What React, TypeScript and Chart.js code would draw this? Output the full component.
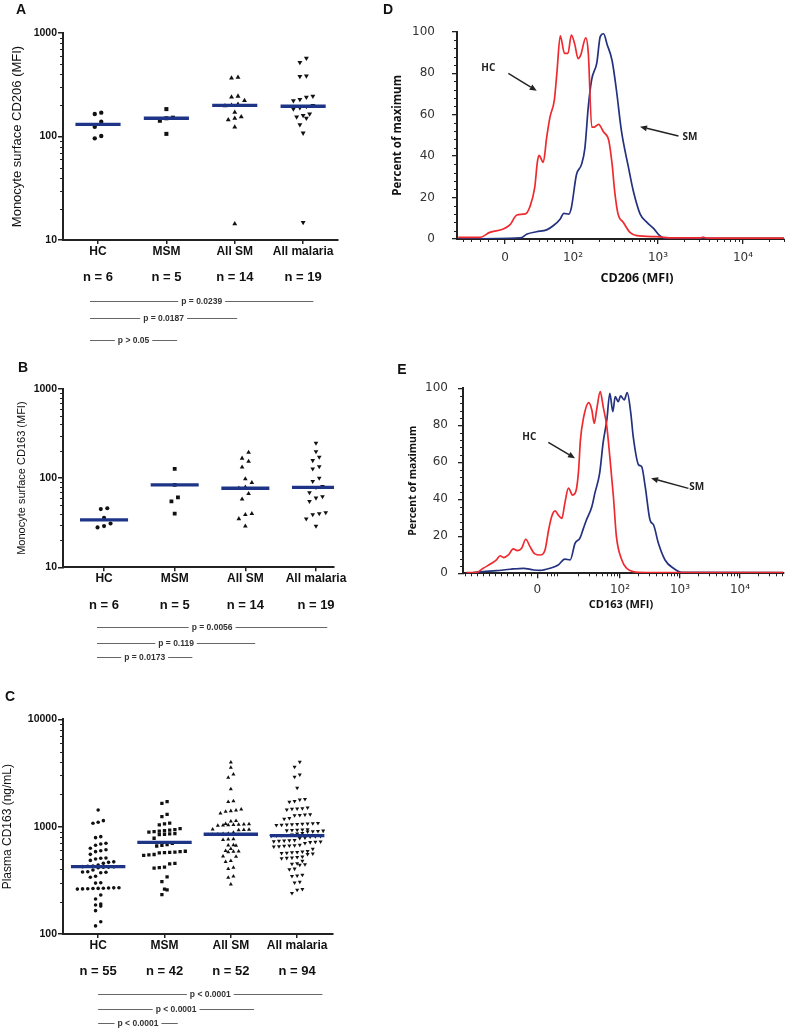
import React, { useEffect, useRef } from 'react';
import { Chart, registerables } from 'chart.js';
Chart.register(...registerables);

// ---------------- Data ----------------
const groups = ['HC', 'MSM', 'All SM', 'All malaria'];

// Panel A: monocyte surface CD206 (MFI)
const aCounts = ['n = 6', 'n = 5', 'n = 14', 'n = 19'];
const aHC = [170, 165, 139, 124, 101, 96];
const aMSM = [184, 152, 150, 142, 106];
const aAllSM = [372, 367, 245, 240, 222, 205, 200, 198, 171, 155, 150, 145, 123, 14.3];
const aAllMal = [570, 520, 385, 380, 245, 240, 228, 222, 200, 195, 190, 185, 165, 160, 155, 150, 130, 108, 14.8];
const aMedians = [131, 150, 200, 196];
const aPValues = ['p = 0.0239', 'p = 0.0187', 'p > 0.05'];

// Panel B: monocyte surface CD163 (MFI)
const bCounts = ['n = 6', 'n = 5', 'n = 14', 'n = 19'];
const bHC = [46, 45, 36, 31, 29, 28];
const bMSM = [127, 84, 61, 55, 40];
const bAllSM = [194, 167, 154, 133, 98, 89, 79, 77, 67, 58, 40, 39, 35, 29];
const bAllMal = [247, 199, 172, 158, 135, 127, 100, 92, 81, 79, 69, 62, 60, 55, 41, 40, 39, 35, 29];
const bMedians = [34, 84, 77, 79];
const bPValues = ['p = 0.0056', 'p = 0.119', 'p = 0.0173'];

// Panel C: plasma CD163 (ng/mL)
const cCounts = ['n = 55', 'n = 42', 'n = 52', 'n = 94'];
const cHC = [1429, 1137, 1100, 1074, 807, 790, 700, 690, 670, 630, 610, 597, 585, 552, 510, 507, 500, 485, 470, 465, 455, 440, 430, 428, 424, 422, 420, 418, 415, 395, 380, 378, 376, 372, 345, 338, 300, 298, 270, 269, 268, 267, 266, 265, 264, 263, 262, 231, 212, 190, 186, 182, 165, 130, 119];
const cMSM = [1710, 1650, 1300, 1240, 1080, 1060, 1040, 960, 940, 930, 920, 910, 900, 890, 860, 855, 850, 845, 780, 700, 680, 670, 660, 590, 585, 580, 575, 572, 570, 550, 545, 540, 455, 450, 420, 415, 410, 340, 308, 262, 258, 233];
const cAllSM = [3970, 3550, 3070, 2860, 2240, 1730, 1700, 1450, 1420, 1400, 1380, 1330, 1130, 1120, 1060, 1055, 1050, 1045, 1040, 1035, 1030, 1025, 945, 940, 935, 930, 880, 860, 855, 850, 845, 840, 765, 760, 755, 675, 670, 665, 620, 595, 590, 585, 580, 530, 525, 480, 470, 415, 405, 345, 335, 290];
const cAllMal = [4000, 3600, 3050, 2900, 2300, 1800, 1780, 1730, 1700, 1500, 1480, 1470, 1460, 1440, 1300, 1290, 1280, 1270, 1200, 1180, 1080, 1070, 1065, 1060, 1055, 1050, 1045, 1040, 1035, 940, 935, 930, 925, 920, 915, 910, 905, 900, 870, 860, 840, 835, 830, 825, 820, 815, 810, 805, 790, 780, 750, 745, 740, 735, 730, 725, 720, 715, 700, 675, 670, 665, 660, 655, 650, 620, 590, 585, 580, 575, 570, 565, 560, 555, 525, 520, 515, 510, 505, 480, 455, 450, 445, 440, 405, 400, 355, 350, 345, 305, 300, 262, 258, 240];
const cMedians = [424, 715, 850, 825];
const cPValues = ['p < 0.0001', 'p < 0.0001', 'p < 0.0001'];

// Panels D/E: histograms (x in display decades, y in percent of maximum)
const xTickLabels = ['0', '10²', '10³', '10⁴'];
const pctTicks = [0, 20, 40, 60, 80, 100];

const dTickPos = [1.2, 2, 3, 4];
const dHcX = [0.65, 0.91, 1.02, 1.18, 1.26, 1.34, 1.44, 1.49, 1.55, 1.58, 1.6, 1.65, 1.69, 1.73, 1.78, 1.81, 1.85, 1.9, 1.94, 1.98, 2.02, 2.06, 2.09, 2.15, 2.18, 2.22, 2.25, 2.3, 2.36, 2.42, 2.46, 2.49, 2.53, 2.59, 2.67, 2.75, 2.98, 3.18, 3.5, 3.53, 3.56, 3.65, 4.48];
const dHcY = [0.8, 0.8, 3.2, 4.8, 6.9, 11.6, 12.1, 15.3, 25, 37, 40.3, 37, 49, 59, 67, 80, 98, 89.5, 89.5, 98.4, 94, 87, 88.7, 97, 89.5, 54, 54, 55.3, 51.6, 47.6, 36, 23, 12, 8.1, 3.2, 1.6, 1.1, 0.5, 0.5, 0.9, 0.5, 0.4, 0.4];
const dSmX = [0.65, 1.38, 1.46, 1.57, 1.69, 1.77, 1.85, 1.89, 1.95, 1.98, 2.04, 2.1, 2.14, 2.18, 2.22, 2.28, 2.32, 2.36, 2.4, 2.46, 2.51, 2.57, 2.65, 2.71, 2.79, 2.87, 2.95, 3.02, 3.1, 4.48];
const dSmY = [0, 0.5, 2.4, 3.5, 4.4, 6.5, 9.7, 12.4, 12, 15, 31, 36, 44, 64, 77, 85, 97.6, 99, 94, 86, 72, 52, 35, 23, 12, 8, 5, 1.6, 0.3, 0.3];

const eTickPos = [0.62, 2, 3, 4];
const eHcX = [-0.56, -0.39, -0.28, -0.14, -0.06, 0, 0.06, 0.14, 0.22, 0.29, 0.36, 0.43, 0.5, 0.58, 0.67, 0.75, 0.81, 0.86, 0.92, 0.97, 1.03, 1.08, 1.14, 1.21, 1.27, 1.31, 1.34, 1.39, 1.48, 1.53, 1.57, 1.61, 1.67, 1.72, 1.78, 1.83, 1.89, 1.94, 2.03, 2.11, 2.22, 2.44, 4.72];
const eHcY = [0.4, 0.5, 2.7, 5.4, 7.2, 9.5, 8.5, 9.9, 13.2, 12.3, 13.5, 18.4, 14.4, 10.5, 9.9, 12.6, 23.4, 30.6, 33.7, 31.5, 29.7, 37.8, 46, 42.3, 45, 55.9, 72, 83.8, 92.3, 88.3, 81, 88.3, 98.2, 90, 79.3, 63, 41.4, 19.8, 7.2, 2.7, 0.9, 0.4, 0.4];
const eSmX = [-0.56, -0.28, -0.06, 0.17, 0.39, 0.56, 0.67, 0.83, 0.97, 1.08, 1.17, 1.25, 1.33, 1.39, 1.44, 1.53, 1.58, 1.66, 1.72, 1.78, 1.83, 1.88, 1.92, 1.97, 2.01, 2.07, 2.12, 2.18, 2.22, 2.31, 2.36, 2.42, 2.5, 2.56, 2.64, 2.75, 2.89, 3.03, 4.72];
const eSmY = [0, 0.9, 1.4, 2.2, 2.7, 1.8, 1.6, 2.7, 4.5, 7.7, 7.2, 16.2, 18.9, 24.3, 28.8, 36, 43.2, 54, 71, 82.9, 97.3, 87.4, 95.5, 92.8, 95.9, 93.7, 97.7, 86.5, 73.9, 58.6, 57.7, 46.8, 28.8, 26.1, 16.2, 7.2, 2.7, 0.5, 0.4];

// ---------------- Helpers ----------------
const ARIAL = '"Liberation Sans", Arial, sans-serif';
const OPEN = '"Open Sans", "DejaVu Sans", sans-serif';
const DEJAVU = '"DejaVu Sans", sans-serif';

function swarm(values: number[], center: number, pxPerX: number, pxPerDec: number, d: number) {
  const sorted = [...values].sort((a, b) => a - b);
  const rows: number[][] = [];
  let cur: number[] = [];
  let start = 0;
  for (const v of sorted) {
    const py = Math.log10(v) * pxPerDec;
    if (cur.length && py - start < d) cur.push(v);
    else {
      if (cur.length) rows.push(cur);
      cur = [v];
      start = py;
    }
  }
  if (cur.length) rows.push(cur);
  const pts: { x: number; y: number }[] = [];
  rows.forEach((r) => r.forEach((v, j) => pts.push({ x: center + ((j - (r.length - 1) / 2) * d) / pxPerX, y: v })));
  return pts;
}

function logMinor(min: number, max: number) {
  const out: number[] = [];
  for (let dec = min; dec < max; dec *= 10) for (let k = 2; k <= 9; k++) out.push(k * dec);
  return out;
}

function histMinor(zero: number, min: number, max: number, step: number) {
  const out: number[] = [];
  for (let d = 0; d <= 4; d++)
    for (let k = 2; k <= 9; k++) {
      const u = d + Math.log10(k);
      if (u > zero + 0.08 && u < max) out.push(u);
    }
  for (let u = zero - step; u > min; u -= step) out.push(u);
  return out;
}

type Extras = {
  minorX?: number[];
  minorY?: number[];
  minorLen?: number;
  nLabels?: { texts: string[]; dy: number; font: string };
  pLines?: { texts: string[]; x1: number; x2: number[]; dy: number[]; font: string };
  notes?: { text: string; x: number; y: number; font: string }[];
  arrows?: { x1: number; y1: number; x2: number; y2: number }[];
  titles?: { text: string; x: number; y: number; font: string }[];
};

function extrasPlugin(ex: Extras) {
  return {
    id: 'extras',
    afterDraw(chart: any) {
      const { ctx, chartArea: ca, scales } = chart;
      const xs = scales.x;
      const ys = scales.y;
      ctx.save();
      ctx.strokeStyle = '#222';
      ctx.lineWidth = 1;
      const len = ex.minorLen ?? 3;
      for (const v of ex.minorY ?? []) {
        const y = Math.round(ys.getPixelForValue(v)) + 0.5;
        ctx.beginPath();
        ctx.moveTo(ca.left - len, y);
        ctx.lineTo(ca.left, y);
        ctx.stroke();
      }
      for (const v of ex.minorX ?? []) {
        const x = Math.round(xs.getPixelForValue(v)) + 0.5;
        ctx.beginPath();
        ctx.moveTo(x, ca.bottom);
        ctx.lineTo(x, ca.bottom + len);
        ctx.stroke();
      }
      ctx.fillStyle = '#111';
      ctx.textAlign = 'center';
      ctx.textBaseline = 'middle';
      if (ex.nLabels) {
        const n = ex.nLabels;
        ctx.font = n.font;
        n.texts.forEach((t, i) => ctx.fillText(t, xs.getPixelForValue(i + 1), ca.bottom + n.dy));
      }
      if (ex.pLines) {
        const p = ex.pLines;
        ctx.font = p.font;
        ctx.strokeStyle = '#555';
        ctx.lineWidth = 0.9;
        ctx.fillStyle = '#333';
        p.texts.forEach((t, i) => {
          const x1 = xs.getPixelForValue(p.x1);
          const x2 = xs.getPixelForValue(p.x2[i]);
          const y = Math.round(ca.bottom + p.dy[i]) + 0.5;
          const w = ctx.measureText(t).width;
          const cx = (x1 + x2) / 2;
          ctx.beginPath();
          ctx.moveTo(x1, y);
          ctx.lineTo(cx - w / 2 - 3, y);
          ctx.moveTo(cx + w / 2 + 3, y);
          ctx.lineTo(x2, y);
          ctx.stroke();
          ctx.fillText(t, cx, y);
        });
      }
      ctx.fillStyle = '#222';
      for (const n of ex.notes ?? []) {
        ctx.font = n.font;
        ctx.fillText(n.text, xs.getPixelForValue(n.x), ys.getPixelForValue(n.y));
      }
      ctx.strokeStyle = '#222';
      ctx.lineWidth = 1.4;
      for (const a of ex.arrows ?? []) {
        const x1 = xs.getPixelForValue(a.x1), y1 = ys.getPixelForValue(a.y1);
        const x2 = xs.getPixelForValue(a.x2), y2 = ys.getPixelForValue(a.y2);
        const ang = Math.atan2(y2 - y1, x2 - x1);
        const hl = 7, hw = 3;
        const bx = x2 - hl * Math.cos(ang), by = y2 - hl * Math.sin(ang);
        ctx.beginPath();
        ctx.moveTo(x1, y1);
        ctx.lineTo(bx, by);
        ctx.stroke();
        ctx.beginPath();
        ctx.moveTo(x2, y2);
        ctx.lineTo(bx + hw * Math.sin(ang), by - hw * Math.cos(ang));
        ctx.lineTo(bx - hw * Math.sin(ang), by + hw * Math.cos(ang));
        ctx.closePath();
        ctx.fill();
      }
      ctx.fillStyle = '#111';
      for (const t of ex.titles ?? []) {
        ctx.font = t.font;
        ctx.fillText(t.text, t.x, t.y);
      }
      ctx.restore();
    },
  };
}

type Box = { left: number; top: number; width: number; height: number };
type Plot = { left: number; top: number; right: number; bottom: number };

type DotPanel = {
  canvas: Box;
  plot: Plot;
  xMin: number;
  xMax: number;
  yMin: number;
  yMax: number;
  series: number[][];
  medians: number[];
  counts: string[];
  pValues: string[];
  pStart: number;
  pEnds: number[];
  pDy: number[];
  nDy: number;
  yTitle: string;
  yTitleSize: number;
  yTitlePad: number;
  dot: number;
  markerScale: number;
  medHalf: number;
};

const markerStyles = ['circle', 'rect', 'triangle', 'triangle'];
const markerRot = [0, 0, 0, 180];
const markerRadius = [2.3, 3.0, 3.0, 3.0];

function dotConfig(p: DotPanel): any {
  const pw = p.plot.right - p.plot.left;
  const ph = p.plot.bottom - p.plot.top;
  const pxPerX = pw / (p.xMax - p.xMin);
  const pxPerDec = ph / (Math.log10(p.yMax) - Math.log10(p.yMin));
  const datasets: any[] = [];
  p.medians.forEach((m, i) =>
    datasets.push({
      type: 'line',
      data: [
        { x: i + 1 - p.medHalf, y: m },
        { x: i + 1 + p.medHalf, y: m },
      ],
      borderColor: '#1e3487',
      borderWidth: 3.3,
      pointRadius: 0,
      tension: 0,
    })
  );
  p.series.forEach((vals, i) =>
    datasets.push({
      type: 'scatter',
      data: swarm(vals, i + 1, pxPerX, pxPerDec, p.dot),
      pointStyle: markerStyles[i],
      rotation: markerRot[i],
      pointRadius: markerRadius[i] * p.markerScale,
      backgroundColor: '#111',
      borderColor: '#111',
      borderWidth: 0,
    })
  );
  const majors: number[] = [];
  for (let v = p.yMin; v <= p.yMax * 1.0001; v *= 10) majors.push(v);
  return {
    type: 'scatter',
    data: { datasets },
    options: {
      animation: false,
      responsive: false,
      devicePixelRatio: 1,
      events: [],
      layout: { padding: { left: 0, top: p.plot.top, right: p.canvas.width - p.plot.right, bottom: 0 } },
      plugins: { legend: { display: false }, tooltip: { enabled: false } },
      scales: {
        x: {
          type: 'linear',
          min: p.xMin,
          max: p.xMax,
          bounds: 'data',
          afterBuildTicks: (s: any) => {
            s.ticks = groups.map((_, i) => ({ value: i + 1 }));
          },
          afterFit: (s: any) => {
            s.height = p.canvas.height - p.plot.bottom;
          },
          ticks: {
            callback: (v: number) => groups[Math.round(v) - 1] ?? '',
            font: { family: ARIAL, size: 12, weight: 'bold' },
            color: '#111',
            padding: 0,
            maxRotation: 0,
            autoSkip: false,
          },
          grid: { drawOnChartArea: false, drawTicks: true, tickLength: 4, color: '#222', lineWidth: 1.5 },
          border: { display: true, color: '#222', width: 2 },
        },
        y: {
          type: 'logarithmic',
          min: p.yMin,
          max: p.yMax,
          bounds: 'data',
          afterBuildTicks: (s: any) => {
            s.ticks = majors.map((v) => ({ value: v }));
          },
          afterFit: (s: any) => {
            s.width = p.plot.left;
          },
          ticks: {
            callback: (v: number) => String(Math.round(v)),
            font: { family: ARIAL, size: 10.5, weight: 'bold' },
            color: '#111',
            padding: 1,
          },
          grid: { drawOnChartArea: false, drawTicks: true, tickLength: 5, color: '#222', lineWidth: 1.5 },
          border: { display: true, color: '#222', width: 2 },
          title: {
            display: true,
            text: p.yTitle,
            font: { family: ARIAL, size: p.yTitleSize },
            color: '#111',
            padding: { top: p.yTitlePad, bottom: 0 },
          },
        },
      },
    },
    plugins: [
      extrasPlugin({
        minorY: logMinor(p.yMin, p.yMax),
        minorLen: 3,
        nLabels: { texts: p.counts, dy: p.nDy, font: `bold 13px ${ARIAL}` },
        pLines: { texts: p.pValues, x1: p.pStart, x2: p.pEnds, dy: p.pDy, font: `bold 8.5px ${ARIAL}` },
      }),
    ],
  };
}

type HistPanel = {
  canvas: Box;
  plot: Plot;
  xMin: number;
  xMax: number;
  tickPos: number[];
  hcX: number[];
  hcY: number[];
  smX: number[];
  smY: number[];
  xTitle: string;
  xTitlePos: [number, number];
  xTitleSize: number;
  yTitleSize: number;
  yTitlePad: number;
  yTickPad: number;
  xTickPad: number;
  hcNote: [number, number];
  hcArrow: [number, number, number, number];
  smNote: [number, number];
  smArrow: [number, number, number, number];
};

function histConfig(h: HistPanel): any {
  const zip = (xs: number[], ys: number[]) => xs.map((x, i) => ({ x, y: ys[i] }));
  const minorY: number[] = [];
  for (let v = 4; v < 100; v += 4) if (v % 20 !== 0) minorY.push(v);
  return {
    type: 'scatter',
    data: {
      datasets: [
        {
          data: zip(h.hcX, h.hcY),
          showLine: true,
          borderColor: '#ee2a2e',
          borderWidth: 1.7,
          pointRadius: 0,
          cubicInterpolationMode: 'monotone',
        },
        {
          data: zip(h.smX, h.smY),
          showLine: true,
          borderColor: '#23317f',
          borderWidth: 1.7,
          pointRadius: 0,
          cubicInterpolationMode: 'monotone',
        },
      ],
    },
    options: {
      animation: false,
      responsive: false,
      devicePixelRatio: 1,
      events: [],
      layout: { padding: { left: 0, top: h.plot.top, right: h.canvas.width - h.plot.right, bottom: 0 } },
      plugins: { legend: { display: false }, tooltip: { enabled: false } },
      scales: {
        x: {
          type: 'linear',
          min: h.xMin,
          max: h.xMax,
          bounds: 'data',
          afterBuildTicks: (s: any) => {
            s.ticks = h.tickPos.map((v) => ({ value: v }));
          },
          afterFit: (s: any) => {
            s.height = h.canvas.height - h.plot.bottom;
          },
          ticks: {
            callback: (_v: number, i: number) => xTickLabels[i],
            font: { family: DEJAVU, size: 12 },
            color: '#333',
            padding: h.xTickPad,
            maxRotation: 0,
            autoSkip: false,
          },
          grid: { drawOnChartArea: false, drawTicks: true, tickLength: 5, color: '#222', lineWidth: 1.3 },
          border: { display: true, color: '#222', width: 2 },
        },
        y: {
          type: 'linear',
          min: 0,
          max: 100,
          bounds: 'data',
          afterBuildTicks: (s: any) => {
            s.ticks = pctTicks.map((v) => ({ value: v }));
          },
          afterFit: (s: any) => {
            s.width = h.plot.left;
          },
          ticks: {
            callback: (v: number) => String(v),
            font: { family: DEJAVU, size: 12 },
            color: '#333',
            padding: h.yTickPad,
          },
          grid: { drawOnChartArea: false, drawTicks: true, tickLength: 5, color: '#222', lineWidth: 1.3 },
          border: { display: true, color: '#222', width: 2 },
          title: {
            display: true,
            text: 'Percent of maximum',
            font: { family: OPEN, size: h.yTitleSize, weight: 'bold' },
            color: '#111',
            padding: { top: h.yTitlePad, bottom: 0 },
          },
        },
      },
    },
    plugins: [
      extrasPlugin({
        minorX: histMinor(h.tickPos[0], h.xMin, h.xMax, 0.1),
        minorY,
        minorLen: 3,
        notes: [
          { text: 'HC', x: h.hcNote[0], y: h.hcNote[1], font: `bold 10px ${OPEN}` },
          { text: 'SM', x: h.smNote[0], y: h.smNote[1], font: `bold 10px ${OPEN}` },
        ],
        arrows: [
          { x1: h.hcArrow[0], y1: h.hcArrow[1], x2: h.hcArrow[2], y2: h.hcArrow[3] },
          { x1: h.smArrow[0], y1: h.smArrow[1], x2: h.smArrow[2], y2: h.smArrow[3] },
        ],
        titles: [{ text: h.xTitle, x: h.xTitlePos[0], y: h.xTitlePos[1], font: `bold ${h.xTitleSize}px ${OPEN}` }],
      }),
    ],
  };
}

// ---------------- Panels ----------------
const panelA: DotPanel = {
  canvas: { left: 0, top: 0, width: 370, height: 360 },
  plot: { left: 63, top: 33, right: 338, bottom: 240 },
  xMin: 0.488, xMax: 4.51, yMin: 10, yMax: 1000,
  series: [aHC, aMSM, aAllSM, aAllMal],
  medians: aMedians, counts: aCounts, pValues: aPValues,
  pStart: 0.883, pEnds: [4.15, 3.035, 2.157], pDy: [61, 78, 100], nDy: 37,
  yTitle: 'Monocyte surface CD206 (MFI)', yTitleSize: 13, yTitlePad: 10,
  dot: 6.5, markerScale: 0.95, medHalf: 0.33,
};
const panelB: DotPanel = {
  canvas: { left: 0, top: 360, width: 370, height: 320 },
  plot: { left: 63, top: 29, right: 334, bottom: 207.3 },
  xMin: 0.419, xMax: 4.255, yMin: 10, yMax: 1000,
  series: [bHC, bMSM, bAllSM, bAllMal],
  medians: bMedians, counts: bCounts, pValues: bPValues,
  pStart: 0.9, pEnds: [4.16, 3.14, 2.25], pDy: [60, 75.4, 90], nDy: 37.7,
  yTitle: 'Monocyte surface CD163 (MFI)', yTitleSize: 11, yTitlePad: 15.4,
  dot: 6.5, markerScale: 0.9, medHalf: 0.34,
};
const panelC: DotPanel = {
  canvas: { left: 0, top: 680, width: 370, height: 351 },
  plot: { left: 63, top: 39.3, right: 333, bottom: 254 },
  xMin: 0.47, xMax: 4.54, yMin: 100, yMax: 10000,
  series: [cHC, cMSM, cAllSM, cAllMal],
  medians: cMedians, counts: cCounts, pValues: cPValues,
  pStart: 1.0, pEnds: [4.38, 3.35, 2.2], pDy: [60, 75, 89], nDy: 37,
  yTitle: 'Plasma CD163 (ng/mL)', yTitleSize: 12, yTitlePad: 0.5,
  dot: 5.2, markerScale: 0.78, medHalf: 0.41,
};
const panelD: HistPanel = {
  canvas: { left: 380, top: 0, width: 407, height: 300 },
  plot: { left: 77, top: 31.7, right: 404, bottom: 239 },
  xMin: 0.635, xMax: 4.482, tickPos: dTickPos,
  hcX: dHcX, hcY: dHcY, smX: dSmX, smY: dSmY,
  xTitle: 'CD206 (MFI)', xTitlePos: [257, 278], xTitleSize: 12.5,
  yTitleSize: 11.5, yTitlePad: 11, yTickPad: 17, xTickPad: 7,
  hcNote: [1.004, 82.6], hcArrow: [1.239, 79.9, 1.573, 71.5],
  smNote: [3.376, 49], smArrow: [3.24, 49.7, 2.788, 54.2],
};
const panelE: HistPanel = {
  canvas: { left: 380, top: 370, width: 407, height: 270 },
  plot: { left: 83, top: 18.3, right: 404, bottom: 203.3 },
  xMin: -0.617, xMax: 4.733, tickPos: eTickPos,
  hcX: eHcX, hcY: eHcY, smX: eSmX, smY: eSmY,
  xTitle: 'CD163 (MFI)', xTitlePos: [241, 235], xTitleSize: 11,
  yTitleSize: 10.5, yTitlePad: 27, yTickPad: 10, xTickPad: 4.5,
  hcNote: [0.488, 73.5], hcArrow: [0.805, 70.8, 1.25, 62.2],
  smNote: [3.278, 46.5], smArrow: [3.14, 45.9, 2.517, 51.4],
};

const panelLetters = [
  { text: 'A', x: 21, y: 10 },
  { text: 'B', x: 23, y: 368 },
  { text: 'C', x: 10, y: 697 },
  { text: 'D', x: 388, y: 10 },
  { text: 'E', x: 402, y: 370 },
];

const boxes: Box[] = [panelA.canvas, panelB.canvas, panelC.canvas, panelD.canvas, panelE.canvas];

export default function App() {
  const refs = [
    useRef<HTMLCanvasElement>(null),
    useRef<HTMLCanvasElement>(null),
    useRef<HTMLCanvasElement>(null),
    useRef<HTMLCanvasElement>(null),
    useRef<HTMLCanvasElement>(null),
  ];
  useEffect(() => {
    const configs = [dotConfig(panelA), dotConfig(panelB), dotConfig(panelC), histConfig(panelD), histConfig(panelE)];
    const charts = configs.map((cfg, i) => new Chart(refs[i].current as HTMLCanvasElement, cfg));
    return () => charts.forEach((c) => c.destroy());
  }, []);
  return (
    <div style={{ position: 'absolute', left: 0, top: 0, width: 787, height: 1031, background: '#fff', overflow: 'hidden' }}>
      {boxes.map((b, i) => (
        <canvas
          key={i}
          ref={refs[i]}
          width={b.width}
          height={b.height}
          style={{ position: 'absolute', left: b.left, top: b.top, width: b.width, height: b.height }}
        />
      ))}
      {panelLetters.map((l) => (
        <div
          key={l.text}
          style={{
            position: 'absolute',
            left: l.x - 6,
            top: l.y - 9,
            width: 12,
            height: 18,
            lineHeight: '18px',
            textAlign: 'center',
            font: `bold 14px ${ARIAL}`,
            color: '#111',
          }}
        >
          {l.text}
        </div>
      ))}
    </div>
  );
}
